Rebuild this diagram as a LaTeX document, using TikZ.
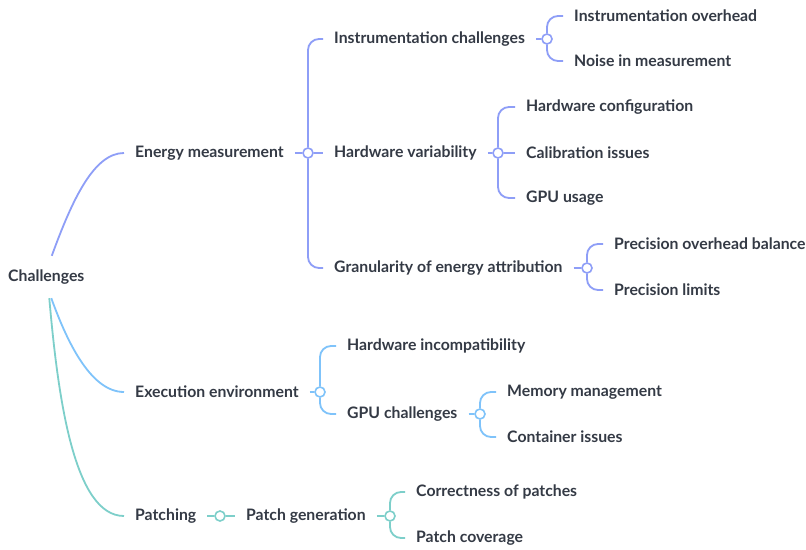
\documentclass[tikz,border=0pt]{standalone}
\usepackage{fontspec}
\setmainfont{Lato}
\definecolor{ink}{HTML}{343A45}
\definecolor{lilac}{HTML}{8E9EF7}
\definecolor{sky}{HTML}{7FC3FA}
\definecolor{teal}{HTML}{7DCFCA}
\tikzset{
	txt/.style={anchor=west, inner xsep=11pt, inner ysep=2pt, text=ink, font=\bfseries\fontsize{15.8}{18}\selectfont},
	dot/.style={circle, draw=#1, fill=white, line width=1.6pt, inner sep=0pt, minimum size=10pt},
	branch/.style={line width=1.8pt, rounded corners=11pt}
}
\begin{document}
\begin{tikzpicture}[x=1pt, y=-1pt]
	\useasboundingbox[fill=white] (0,0) rectangle (806,549);

	\node[txt, inner xsep=0pt, minimum height=42pt] (root) at (8,277) {Challenges};

	\node[txt] (em) at (124,153) {Energy measurement};
	\node[txt] (ic) at (323,39) {Instrumentation challenges};
	\node[txt] (hv) at (323,153) {Hardware variability};
	\node[txt] (ga) at (323,268) {Granularity of energy attribution};
	\node[txt] (io) at (563,16) {Instrumentation overhead};
	\node[txt] (nm) at (563,61) {Noise in measurement};
	\node[txt] (hc) at (515,107) {Hardware configuration};
	\node[txt] (ci) at (515,153) {Calibration issues};
	\node[txt] (gu) at (515,198) {GPU usage};
	\node[txt] (pob) at (603,244) {Precision overhead balance};
	\node[txt] (pl) at (603,290) {Precision limits};

	\node[txt] (ee) at (124,392) {Execution environment};
	\node[txt] (hi) at (336,346) {Hardware incompatibility};
	\node[txt] (gc) at (336,414) {GPU challenges};
	\node[txt] (mm) at (496,392) {Memory management};
	\node[txt] (cis) at (496,437) {Container issues};

	\node[txt] (pa) at (124,516) {Patching};
	\node[txt] (pg) at (235,516) {Patch generation};
	\node[txt] (cp) at (405,492) {Correctness of patches};
	\node[txt] (pc) at (405,538) {Patch coverage};

	\node[dot=lilac] (em-o) at (308,153) {};
	\node[dot=lilac] (ic-o) at (547,39) {};
	\node[dot=lilac] (hv-o) at (498,153) {};
	\node[dot=lilac] (ga-o) at (587,268) {};
	\node[dot=sky] (ee-o) at (320,392) {};
	\node[dot=sky] (gc-o) at (480,414) {};
	\node[dot=teal] (pa-o) at (220,516) {};
	\node[dot=teal] (pg-o) at (390,516) {};

	\draw[branch, lilac] ([xshift=5.5pt]root.north) .. controls +(-70:60) and +(180:30) .. (em.west);
	\draw[branch, lilac] (em.east) -- (em-o) -- (hv.west);
	\draw[branch, lilac] (em-o) |- (ic.west);
	\draw[branch, lilac] (em-o) |- (ga.west);
	\draw[branch, lilac] (ic.east) -- (ic-o);
	\draw[branch, lilac] (ic-o) |- (io.west);
	\draw[branch, lilac] (ic-o) |- (nm.west);
	\draw[branch, lilac] (hv.east) -- (hv-o) -- (ci.west);
	\draw[branch, lilac] (hv-o) |- (hc.west);
	\draw[branch, lilac] (hv-o) |- (gu.west);
	\draw[branch, lilac] (ga.east) -- (ga-o);
	\draw[branch, lilac] (ga-o) |- (pob.west);
	\draw[branch, lilac] (ga-o) |- (pl.west);

	\draw[branch, sky] ([xshift=5pt]root.south) .. controls +(70:40) and +(180:35) .. (ee.west);
	\draw[branch, sky] (ee.east) -- (ee-o);
	\draw[branch, sky] (ee-o) |- (hi.west);
	\draw[branch, sky] (ee-o) |- (gc.west);
	\draw[branch, sky] (gc.east) -- (gc-o);
	\draw[branch, sky] (gc-o) |- (mm.west);
	\draw[branch, sky] (gc-o) |- (cis.west);

	\draw[branch, teal] ([xshift=3pt]root.south) .. controls +(85:100) and +(180:50) .. (pa.west);
	\draw[branch, teal] (pa.east) -- (pa-o) -- (pg.west);
	\draw[branch, teal] (pg.east) -- (pg-o);
	\draw[branch, teal] (pg-o) |- (cp.west);
	\draw[branch, teal] (pg-o) |- (pc.west);
\end{tikzpicture}
\end{document}
